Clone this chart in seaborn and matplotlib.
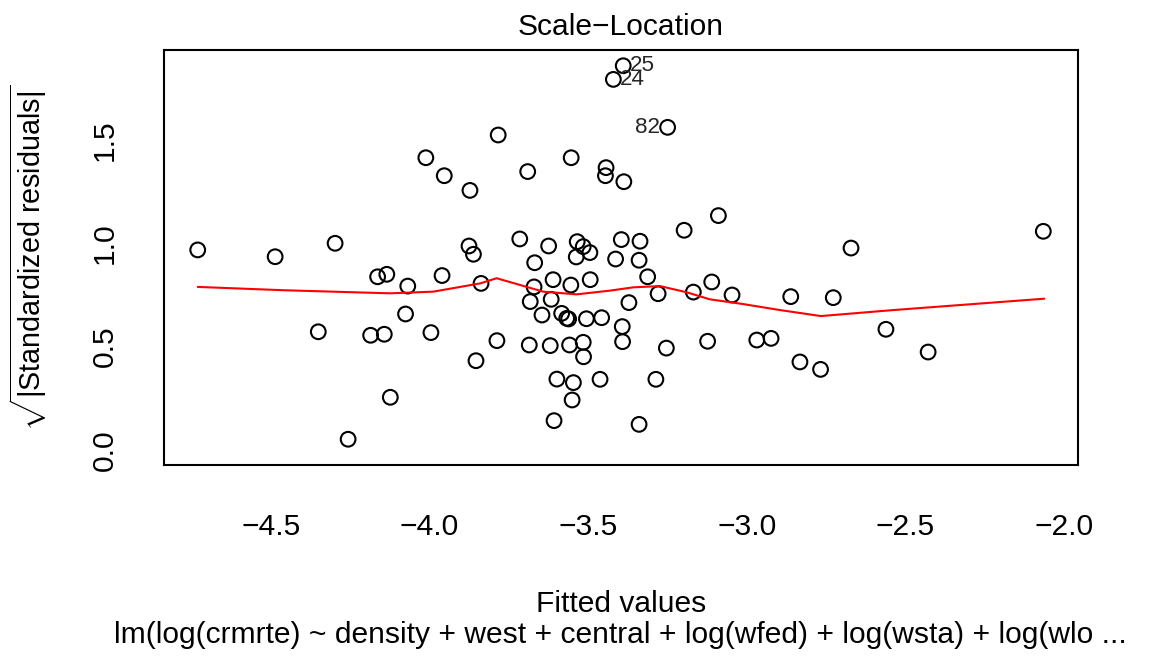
import numpy as np
import pandas as pd
import matplotlib
matplotlib.use("Agg")
import matplotlib.pyplot as plt
import seaborn as sns

# ---- data ----
fitted = [-4.730, -4.486, -4.297, -4.011, -3.953, -3.872, -3.875, -3.861, -4.163, -4.134,
          -4.068, -3.960, -4.075, -4.350, -4.185, -4.142, -3.995, -3.853, -4.123, -4.256,
          -3.837,
          -3.389, -3.420, -3.249, -3.783, -3.553, -3.690, -3.443, -3.445, -3.387, -3.089,
          -3.197, -3.715, -3.624, -3.534, -3.515, -3.494, -3.537, -3.395, -3.336, -3.413,
          -3.339, -3.668, -3.312, -3.610, -3.554, -3.493, -3.670, -3.616, -3.682, -3.371,
          -3.279, -3.168, -3.110, -3.046, -3.645, -3.583, -3.567, -3.561, -3.505, -3.457,
          -3.392, -3.787, -3.685, -3.619, -3.558, -3.515, -3.391, -3.514, -3.253, -3.123,
          -2.968, -2.923, -3.598, -3.546, -3.462, -3.286, -3.550, -3.607, -3.339,
          -2.861, -2.727, -2.671, -2.065, -2.561, -2.428, -2.832, -2.767]
sqrt_std_resid = [0.968, 0.935, 1.000, 1.414, 1.327, 1.256, 0.987, 0.947, 0.838, 0.850,
                  0.793, 0.844, 0.658, 0.572, 0.555, 0.560, 0.568, 0.432, 0.255, 0.052,
                  0.806,
                  1.859, 1.793, 1.561, 1.524, 1.414, 1.347, 1.366, 1.327, 1.298, 1.134,
                  1.063, 1.021, 0.987, 1.008, 0.984, 0.955, 0.934, 1.018, 1.010, 0.924,
                  0.918, 0.906, 0.838, 0.824, 0.798, 0.824, 0.789, 0.729, 0.718, 0.713,
                  0.756, 0.764, 0.813, 0.750, 0.653, 0.661, 0.637, 0.634, 0.635, 0.640,
                  0.597, 0.529, 0.508, 0.505, 0.508, 0.521, 0.524, 0.451, 0.493, 0.526,
                  0.532, 0.540, 0.343, 0.326, 0.342, 0.342, 0.242, 0.142, 0.124,
                  0.742, 0.737, 0.977, 1.058, 0.584, 0.474, 0.426, 0.390]

# smoother (red line)
smooth_x = [-4.730, -4.460, -4.124, -3.988, -3.840, -3.788, -3.641, -3.536, -3.431,
            -3.357, -3.273, -3.189, -3.116, -3.011, -2.895, -2.766, -2.538, -2.062]
smooth_y = [0.789, 0.773, 0.758, 0.766, 0.806, 0.831, 0.766, 0.753, 0.771,
            0.787, 0.793, 0.763, 0.729, 0.706, 0.677, 0.648, 0.677, 0.732]

# identified observations: label, index into the arrays above, side
id_labels = ["25", "24", "82"]
id_index = [21, 22, 23]
id_side = ["right", "right", "left"]

x_ticks = [-4.5, -4.0, -3.5, -3.0, -2.5, -2.0]
y_ticks = [0.0, 0.5, 1.0, 1.5]

title = "Scale\u2212Location"
xlabel = "Fitted values"
ylabel = r"$\sqrt{|\mathrm{Standardized\ residuals}|}$"
subcaption = "lm(log(crmrte) ~ density + west + central + log(wfed) + log(wsta) + log(wlo ..."

# ---- styling ----
sns.set_style("white")
plt.rcParams["font.family"] = ["Liberation Sans", "DejaVu Sans"]
plt.rcParams["mathtext.fontset"] = "custom"
plt.rcParams["mathtext.rm"] = "Liberation Sans"
plt.rcParams["mathtext.it"] = "Liberation Sans:italic"
plt.rcParams["mathtext.bf"] = "Liberation Sans:bold"
plt.rcParams["axes.unicode_minus"] = True

FS = 21.6  # ~30 px

df = pd.DataFrame({"fitted": fitted, "sr": sqrt_std_resid})
sm = pd.DataFrame({"x": smooth_x, "y": smooth_y})

fig = plt.figure(figsize=(11.64, 6.58), dpi=100)
ax = fig.add_axes([0.14064, 0.29331, 0.78522, 0.63070])

sns.scatterplot(data=df, x="fitted", y="sr", ax=ax, marker="o", s=112,
                facecolor="none", edgecolor="black", linewidth=1.5, legend=False)
sns.lineplot(data=sm, x="x", y="y", ax=ax, color="red", linewidth=1.5,
             sort=False, estimator=None)

for lab, i, side in zip(id_labels, id_index, id_side):
    if side == "right":
        ax.annotate(lab, (fitted[i], sqrt_std_resid[i]), xytext=(4.5, 0),
                    textcoords="offset points", ha="left", va="center",
                    fontsize=FS * 0.75, annotation_clip=False)
    else:
        ax.annotate(lab, (fitted[i], sqrt_std_resid[i]), xytext=(-5.5, 0),
                    textcoords="offset points", ha="right", va="center",
                    fontsize=FS * 0.75, annotation_clip=False)

ax.set_xlim(-4.8372, -1.9566)
ax.set_ylim(-0.0726, 1.9352)
ax.set_xticks(x_ticks)
ax.set_yticks(y_ticks)
ax.set_xticklabels([f"{t:.1f}".replace("-", "\u2212") for t in x_ticks])
ax.set_yticklabels([f"{t:.1f}" for t in y_ticks], rotation=90, va="center")
ax.tick_params(axis="both", direction="out", length=14.5, width=1.5,
               color="black", labelsize=FS, labelcolor="black")
ax.tick_params(axis="x", pad=20)
ax.tick_params(axis="y", pad=18)

for sp in ax.spines.values():
    sp.set_visible(True)
    sp.set_color("black")
    sp.set_linewidth(1.5)

ax.set_title(title, fontsize=FS, pad=11, color="black")
ax.set_xlabel(xlabel, fontsize=FS, labelpad=35, color="black")
ax.set_ylabel(ylabel, fontsize=FS * 0.96, labelpad=30, color="black")

fig.text((163.7 + 1077.7) / 2 / 1164, 1 - 643 / 658, subcaption,
         ha="center", va="baseline", fontsize=FS, color="black")

fig.savefig("out.png", dpi=100, facecolor="white")
